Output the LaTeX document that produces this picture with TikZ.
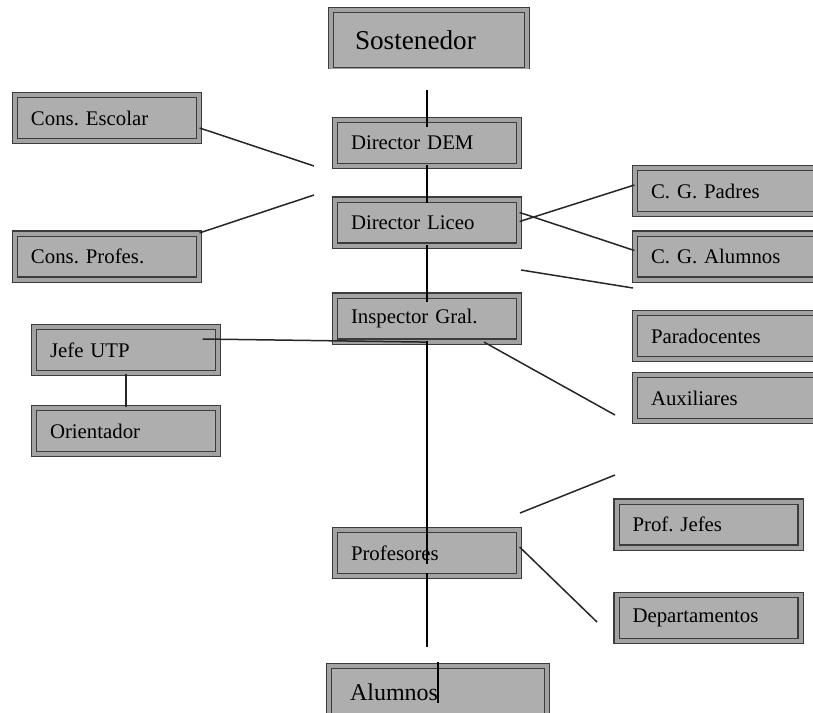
\documentclass[tikz,border=0pt]{standalone}
\usepackage{fontspec}
\setmainfont{Liberation Serif}
\usepackage{tikz}
\usetikzlibrary{calc,positioning}
\definecolor{boxfill}{HTML}{AEAEAE}
\definecolor{boxedge}{HTML}{3C3C3C}
\definecolor{boxgap}{HTML}{A2A2A2}
\frenchspacing
\begin{document}
\begin{tikzpicture}[
                x=0.5pt, y=-0.5pt,
                orgbox/.style={draw=boxedge, double=boxgap, double distance=2pt, line width=0.6pt,
                    fill=boxfill, inner xsep=8pt, inner ysep=0pt, minimum height=23pt,
                    text width=76pt, align=left, font=\fontsize{10.4}{12}\selectfont},
                link/.style={draw=black!85, line width=0.75pt},
                spine/.style={draw=black, line width=1pt}
            ]
                \useasboundingbox (0,0) rectangle (813,712);
                \clip (0,0) rectangle (813,712);
                \begin{scope}
                    \clip (300,0) rectangle (560,68);
                    \node[orgbox, text width=74pt, inner xsep=12pt, minimum height=30pt,
                        font=\fontsize{13.6}{16}\selectfont] (sost) at (429,40) {Sostenedor};
                \end{scope}
                \node[orgbox] (escolar) at (107,118)   {Cons. Escolar};
                \node[orgbox] (profes)  at (107,256.5) {Cons. Profes.};
                \node[orgbox] (dem)     at (427,143)   {Director DEM};
                \node[orgbox] (liceo)   at (427,222.5) {Director Liceo};
                \node[orgbox] (insp)    at (427,318.5) {Inspector Gral.};
                \node[orgbox] (padres)  at (727,191)   {C. G. Padres};
                \node[orgbox] (calum)   at (727,256.5) {C. G. Alumnos};
                \node[orgbox] (para)    at (727,336)   {Paradocentes};
                \node[orgbox] (aux)     at (727,398)   {Auxiliares};
                \node[orgbox] (utp)     at (126,350)   {Jefe UTP};
                \node[orgbox] (orient)  at (126,431)   {Orientador};
                \node[orgbox] (prof)    at (427,553)   {Profesores};
                \node[orgbox] (jefes)   at (708.5,524.5) {Prof. Jefes};
                \node[orgbox] (depto)   at (708.5,618) {Departamentos};
                \node[orgbox, text width=88pt, inner xsep=10.5pt, minimum height=26pt,
                    font=\fontsize{12}{14}\selectfont] (alumnos) at (438,692) {Alumnos};
                % loose line ends
                \coordinate (e1) at (314,166);
                \coordinate (p1) at (314,195);
                \coordinate (c1) at (521,270);
                \coordinate (c2) at (633,288);
                \coordinate (i1) at (615,415);
                \coordinate (f1) at (520,513);
                \coordinate (f2) at (615,475);
                \coordinate (d1) at (597,622);
                \draw[link] ($(escolar.east)+(0,10)$) -- (e1);
                \draw[link] (profes.north east) -- (p1);
                \draw[link] ($(liceo.east)+(0,-1)$) -- ($(padres.west)+(0,-6)$);
                \draw[link] ($(liceo.east)+(0,-10)$) -- ($(calum.west)+(0,-6)$);
                \draw[link] (c1) -- (c2);
                \draw[link] ($(insp.south)+(57,0)$) -- (i1);
                \draw[link] ($(utp.east)+(-16,-11)$) -- (insp.south);
                \draw[link] (utp) -- (orient);
                \draw[link] (f1) -- (f2);
                \draw[link] ($(prof.east)+(0,-6)$) -- (d1);
                % main line
                \coordinate (s1)  at (427,90);
                \coordinate (s2)  at (427,127);
                \coordinate (s3)  at (427,165);
                \coordinate (s4)  at (427,203);
                \coordinate (s5)  at (427,245);
                \coordinate (s6)  at (427,302);
                \coordinate (s7)  at (427,341);
                \coordinate (s8)  at (427,564);
                \coordinate (s9)  at (427,573);
                \coordinate (s10) at (427,647);
                \coordinate (s11) at (438,662);
                \coordinate (s12) at (438,703);
                \draw[spine] (s1) -- (s2) (s3) -- (s4) (s5) -- (s6)
                    (s7) -- (s8) (s9) -- (s10) (s11) -- (s12);
            \end{tikzpicture}
\end{document}
